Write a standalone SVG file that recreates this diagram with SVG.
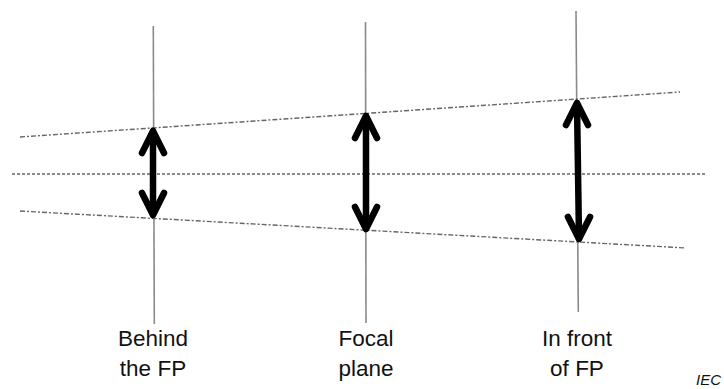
<svg xmlns="http://www.w3.org/2000/svg" width="724" height="389" viewBox="0 0 724 389">
<style>
.axis{stroke:#8a8a8a;stroke-width:1.6;fill:none}
.dot{stroke:#666;stroke-width:1.4;stroke-dasharray:3 2;fill:none}
.dd{stroke:#666;stroke-width:1.4;stroke-dasharray:5 2 2 2;fill:none}
.arr{stroke:#000;stroke-width:6.5;fill:none;stroke-linecap:round;stroke-linejoin:round}
.lbl{font-family:"Liberation Sans",Arial,sans-serif;font-size:22.5px;fill:#111;text-anchor:middle}
.iec{font-family:"Liberation Sans",Arial,sans-serif;font-size:15px;font-style:italic;fill:#111}
</style>
<rect width="724" height="389" fill="#fff"/>
<g id="connectors">
<line class="axis" x1="153.3" y1="26" x2="154.3" y2="324"/>
<line class="axis" x1="365.5" y1="22" x2="366" y2="323"/>
<line class="axis" x1="576" y1="11" x2="578.3" y2="312"/>
<line class="dd" x1="20" y1="137" x2="680" y2="92"/>
<line class="dot" x1="12" y1="174" x2="705" y2="174"/>
<line class="dd" x1="20" y1="211" x2="686" y2="248"/>
</g>
<g id="arrow-behind">
<line class="arr" x1="153" y1="132" x2="153" y2="214"/>
<path class="arr" d="M142,153 L153,131 L164,153"/>
<path class="arr" d="M142,193 L153,215 L164,193"/>
</g>
<g id="arrow-focal">
<line class="arr" x1="366" y1="117" x2="366" y2="228"/>
<path class="arr" d="M355,138 L366,116 L377,138"/>
<path class="arr" d="M355,207 L366,229 L377,207"/>
</g>
<g id="arrow-front">
<line class="arr" x1="577" y1="104" x2="579" y2="238"/>
<path class="arr" d="M566,125 L577,103 L588,125"/>
<path class="arr" d="M568,217 L579,239 L590,217"/>
</g>
<g id="label-behind">
<text class="lbl" x="153" y="346">Behind</text>
<text class="lbl" x="153" y="376">the FP</text>
</g>
<g id="label-focal">
<text class="lbl" x="366" y="346">Focal</text>
<text class="lbl" x="366" y="376">plane</text>
</g>
<g id="label-front">
<text class="lbl" x="577" y="346">In front</text>
<text class="lbl" x="577" y="376">of FP</text>
</g>
<text class="iec" x="696" y="385">IEC</text>
</svg>
